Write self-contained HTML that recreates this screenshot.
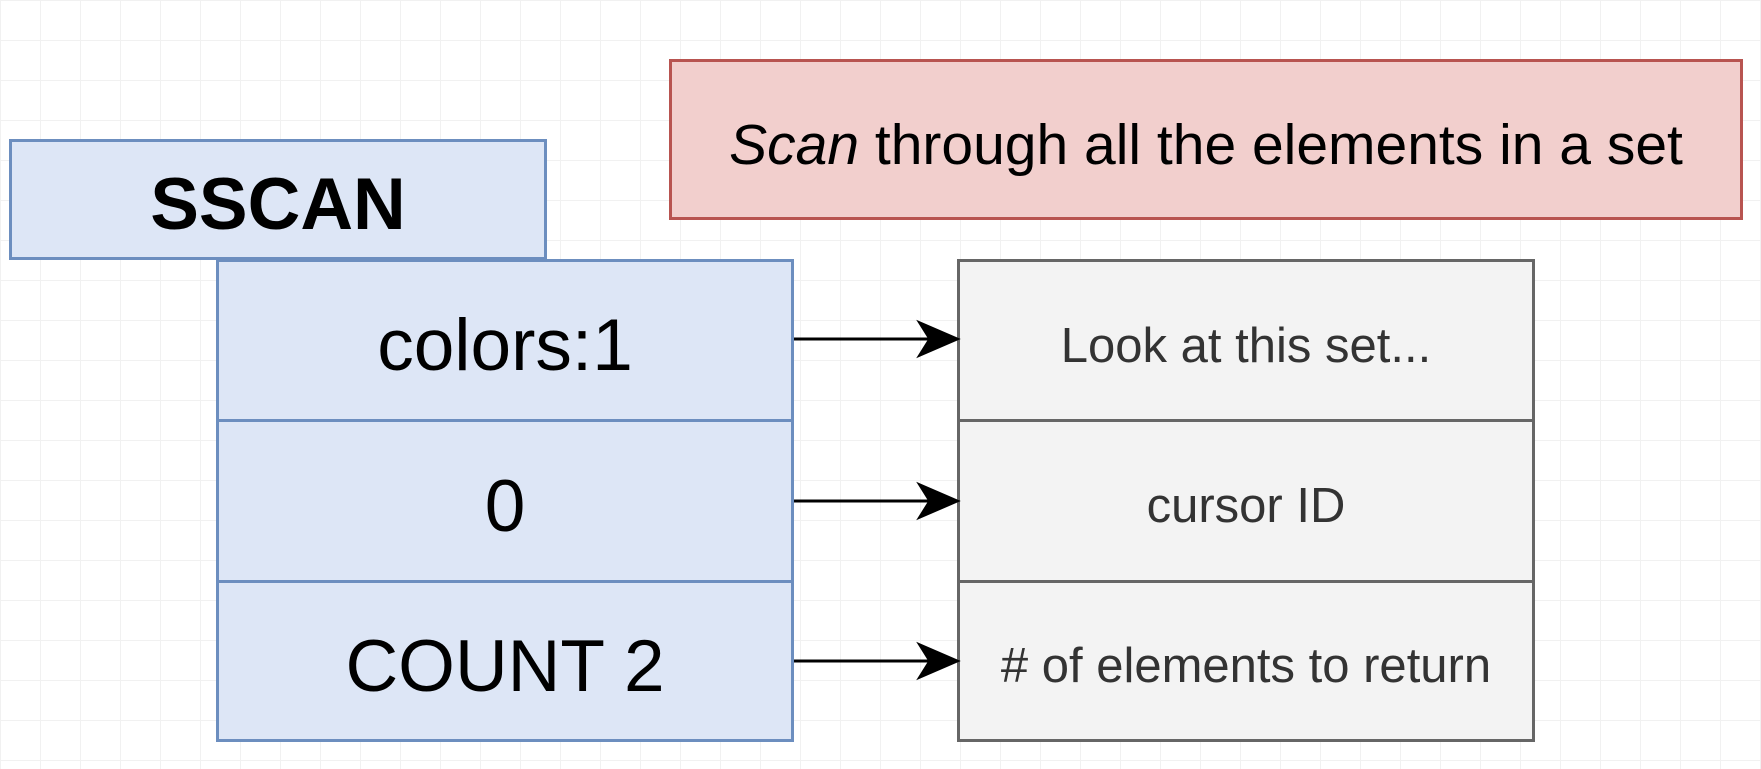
<!DOCTYPE html>
<html><head><meta charset="utf-8"><style>
body{margin:0;width:1761px;height:769px;overflow:hidden;background:#fff;font-family:"Liberation Sans",sans-serif;position:relative;
background-image:linear-gradient(#f1f1f1 1px,transparent 1px),linear-gradient(90deg,#f1f1f1 1px,transparent 1px);background-size:40px 40px,40px 40px;}
.b{position:absolute;box-sizing:border-box;display:flex;align-items:center;justify-content:center;color:#000;padding-top:10px;}
.blue{background:#dde6f6;border:3px solid #6c8ebf;}
.gray{background:#f3f3f3;border:3px solid #666;color:#333;font-size:49px;}
</style></head><body>
<div class="b blue" style="left:9px;top:139px;width:538px;height:121px;font-weight:bold;font-size:73px;">SSCAN</div>
<div class="b" style="left:669px;top:59px;width:1074px;height:161px;background:#f2cfcd;border:3px solid #b85450;font-size:57px;"><span><i>Scan</i> through all the elements in a set</span></div>
<div class="b blue" style="left:216px;top:259px;width:578px;height:163px;font-size:73px;">colors:1</div>
<div class="b blue" style="left:216px;top:419px;width:578px;height:164px;font-size:73px;">0</div>
<div class="b blue" style="left:216px;top:580px;width:578px;height:162px;font-size:73px;">COUNT 2</div>
<div class="b gray" style="left:957px;top:259px;width:578px;height:163px;">Look at this set...</div>
<div class="b gray" style="left:957px;top:419px;width:578px;height:164px;">cursor ID</div>
<div class="b gray" style="left:957px;top:580px;width:578px;height:162px;"># of elements to return</div>
<svg style="position:absolute;left:0;top:0" width="1761" height="769">
<g stroke="#000" stroke-width="3" fill="#000">
<line x1="794" y1="339" x2="935" y2="339"/><path d="M957 339 L920 323 L930 339 L920 355 Z"/>
<line x1="794" y1="501" x2="935" y2="501"/><path d="M957 501 L920 485 L930 501 L920 517 Z"/>
<line x1="794" y1="661" x2="935" y2="661"/><path d="M957 661 L920 645 L930 661 L920 677 Z"/>
</g></svg>
</body></html>
